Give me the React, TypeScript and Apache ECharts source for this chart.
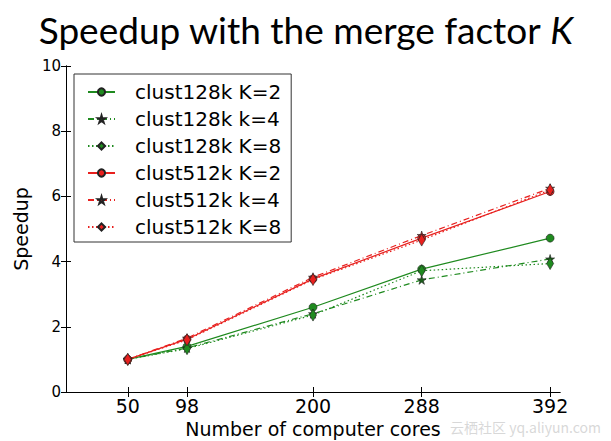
import React, { useEffect, useRef } from "react";
import * as echarts from "echarts";

const cores = [50, 98, 200, 288, 392];
const xTicks = [50, 98, 200, 288, 392];
const c128K2 = [1.0, 1.4, 2.6, 3.77, 4.72];
const c128K4 = [1.0, 1.35, 2.4, 3.44, 4.08];
const c128K8 = [1.0, 1.33, 2.36, 3.72, 3.94];
const c512K2 = [1.0, 1.62, 3.47, 4.72, 6.15];
const c512K4 = [1.0, 1.65, 3.52, 4.8, 6.25];
const c512K8 = [1.0, 1.6, 3.45, 4.66, 6.2];
const names = [
  "clust128k K=2",
  "clust128k k=4",
  "clust128k K=8",
  "clust512k K=2",
  "clust512k k=4",
  "clust512k K=8",
];

const STAR = "path://M50,0 L61,35 L98,35 L68,57 L79,91 L50,70 L21,91 L32,57 L2,35 L39,35 Z";

export default function App() {
  const ref = useRef<HTMLDivElement>(null);
  useEffect(() => {
    if (!ref.current) return;
    const chart = echarts.init(ref.current, undefined, { renderer: "svg" });
    const GREEN = "#1f8a1f";
    const RED = "#e8201e";
    const mk = (
      name: string,
      vals: number[],
      color: string,
      type: any,
      symbol: string,
      size: any,
      symColor?: string
    ) => ({
      name,
      type: "line",
      data: cores.map((c, i) => [c, vals[i]]),
      symbol,
      symbolSize: size,
      lineStyle: { color, width: 1.2, type },
      itemStyle: { color: symColor || color, borderColor: "#222", borderWidth: 0.6 },
      emphasis: { disabled: true },
      z: 3,
    });
    const font = "DejaVu Sans";
    chart.setOption({
      animation: false,
      backgroundColor: "#fff",
      title: {
        text: "{a|Speedup with the merge factor }{b|K}",
        left: "center",
        top: 6,
        textStyle: {
          fontWeight: "normal",
          rich: {
            a: { fontFamily: "Lato", fontSize: 37, fontWeight: "normal", color: "#000" },
            b: { fontFamily: "Lato", fontSize: 37, fontWeight: "normal", fontStyle: "italic", color: "#000" },
          },
        },
      },
      graphic: [
        {
          type: "text",
          right: 10,
          bottom: 7,
          style: { text: "云栖社区 yq.aliyun.com", fill: "rgba(190,190,190,0.6)", fontSize: 14, fontFamily: "Noto Sans CJK SC" },
          z: 0,
        },
      ],
      legend: {
        orient: "vertical",
        left: 74,
        top: 74,
        padding: [8, 10, 5, 13],
        backgroundColor: "#fff",
        borderColor: "#333",
        borderWidth: 1,
        borderRadius: 0,
        itemWidth: 27,
        itemHeight: 9,
        itemGap: 7,
        textStyle: { fontFamily: font, fontSize: 20, color: "#000", lineHeight: 20, padding: [0, 0, 0, 15] },
        data: names,
      },
      grid: { left: 66, right: 51, top: 66, bottom: 49, outerBoundsMode: "none", containLabel: false },
      xAxis: [
        {
          type: "value",
          min: 0,
          max: 400,
          name: "Number of computer cores",
          nameLocation: "middle",
          nameGap: 24,
          nameTextStyle: { fontFamily: font, fontSize: 19, color: "#000" },
          axisLine: { lineStyle: { color: "#000" } },
          axisTick: { inside: true, length: 5, customValues: xTicks, lineStyle: { color: "#000" } },
          axisLabel: { customValues: xTicks, fontFamily: font, fontSize: 19, color: "#000", margin: 4 },
          splitLine: { show: false },
        },
        {
          type: "value",
          position: "top",
          min: 0,
          max: 400,
          axisLine: { show: true, lineStyle: { color: "#000" } },
          axisTick: { show: true, inside: true, length: 5, customValues: xTicks, lineStyle: { color: "#000" } },
          axisLabel: { show: false },
          splitLine: { show: false },
        },
      ],
      yAxis: [
        {
          type: "value",
          min: 0,
          max: 10,
          interval: 2,
          name: "Speedup",
          nameLocation: "middle",
          nameGap: 36,
          nameTextStyle: { fontFamily: font, fontSize: 19, color: "#000" },
          axisLine: { show: true, lineStyle: { color: "#000" } },
          axisTick: { show: true, inside: true, length: 5, lineStyle: { color: "#000" } },
          axisLabel: { fontFamily: font, fontSize: 15, color: "#000", margin: 5 },
          splitLine: { show: false },
        },
        {
          type: "value",
          position: "right",
          min: 0,
          max: 10,
          interval: 2,
          axisLine: { show: true, lineStyle: { color: "#000" } },
          axisTick: { show: true, inside: true, length: 5, lineStyle: { color: "#000" } },
          axisLabel: { show: false },
          splitLine: { show: false },
        },
      ],
      series: [
        mk(names[0], c128K2, GREEN, "solid", "circle", 8),
        mk(names[1], c128K4, GREEN, [6, 3, 1, 3], STAR, 9, "#1a5e1a"),
        mk(names[2], c128K8, GREEN, [1.5, 2.5], "diamond", [7, 12]),
        mk(names[3], c512K2, RED, "solid", "circle", 8),
        mk(names[4], c512K4, RED, [6, 3, 1, 3], STAR, 9, "#a52a2a"),
        mk(names[5], c512K8, RED, [1.5, 2.5], "diamond", [7, 12]),
      ],
    });
    return () => chart.dispose();
  }, []);
  return <div ref={ref} style={{ width: 611, height: 441, position: "fixed", left: 0, top: 0 }} />;
}
